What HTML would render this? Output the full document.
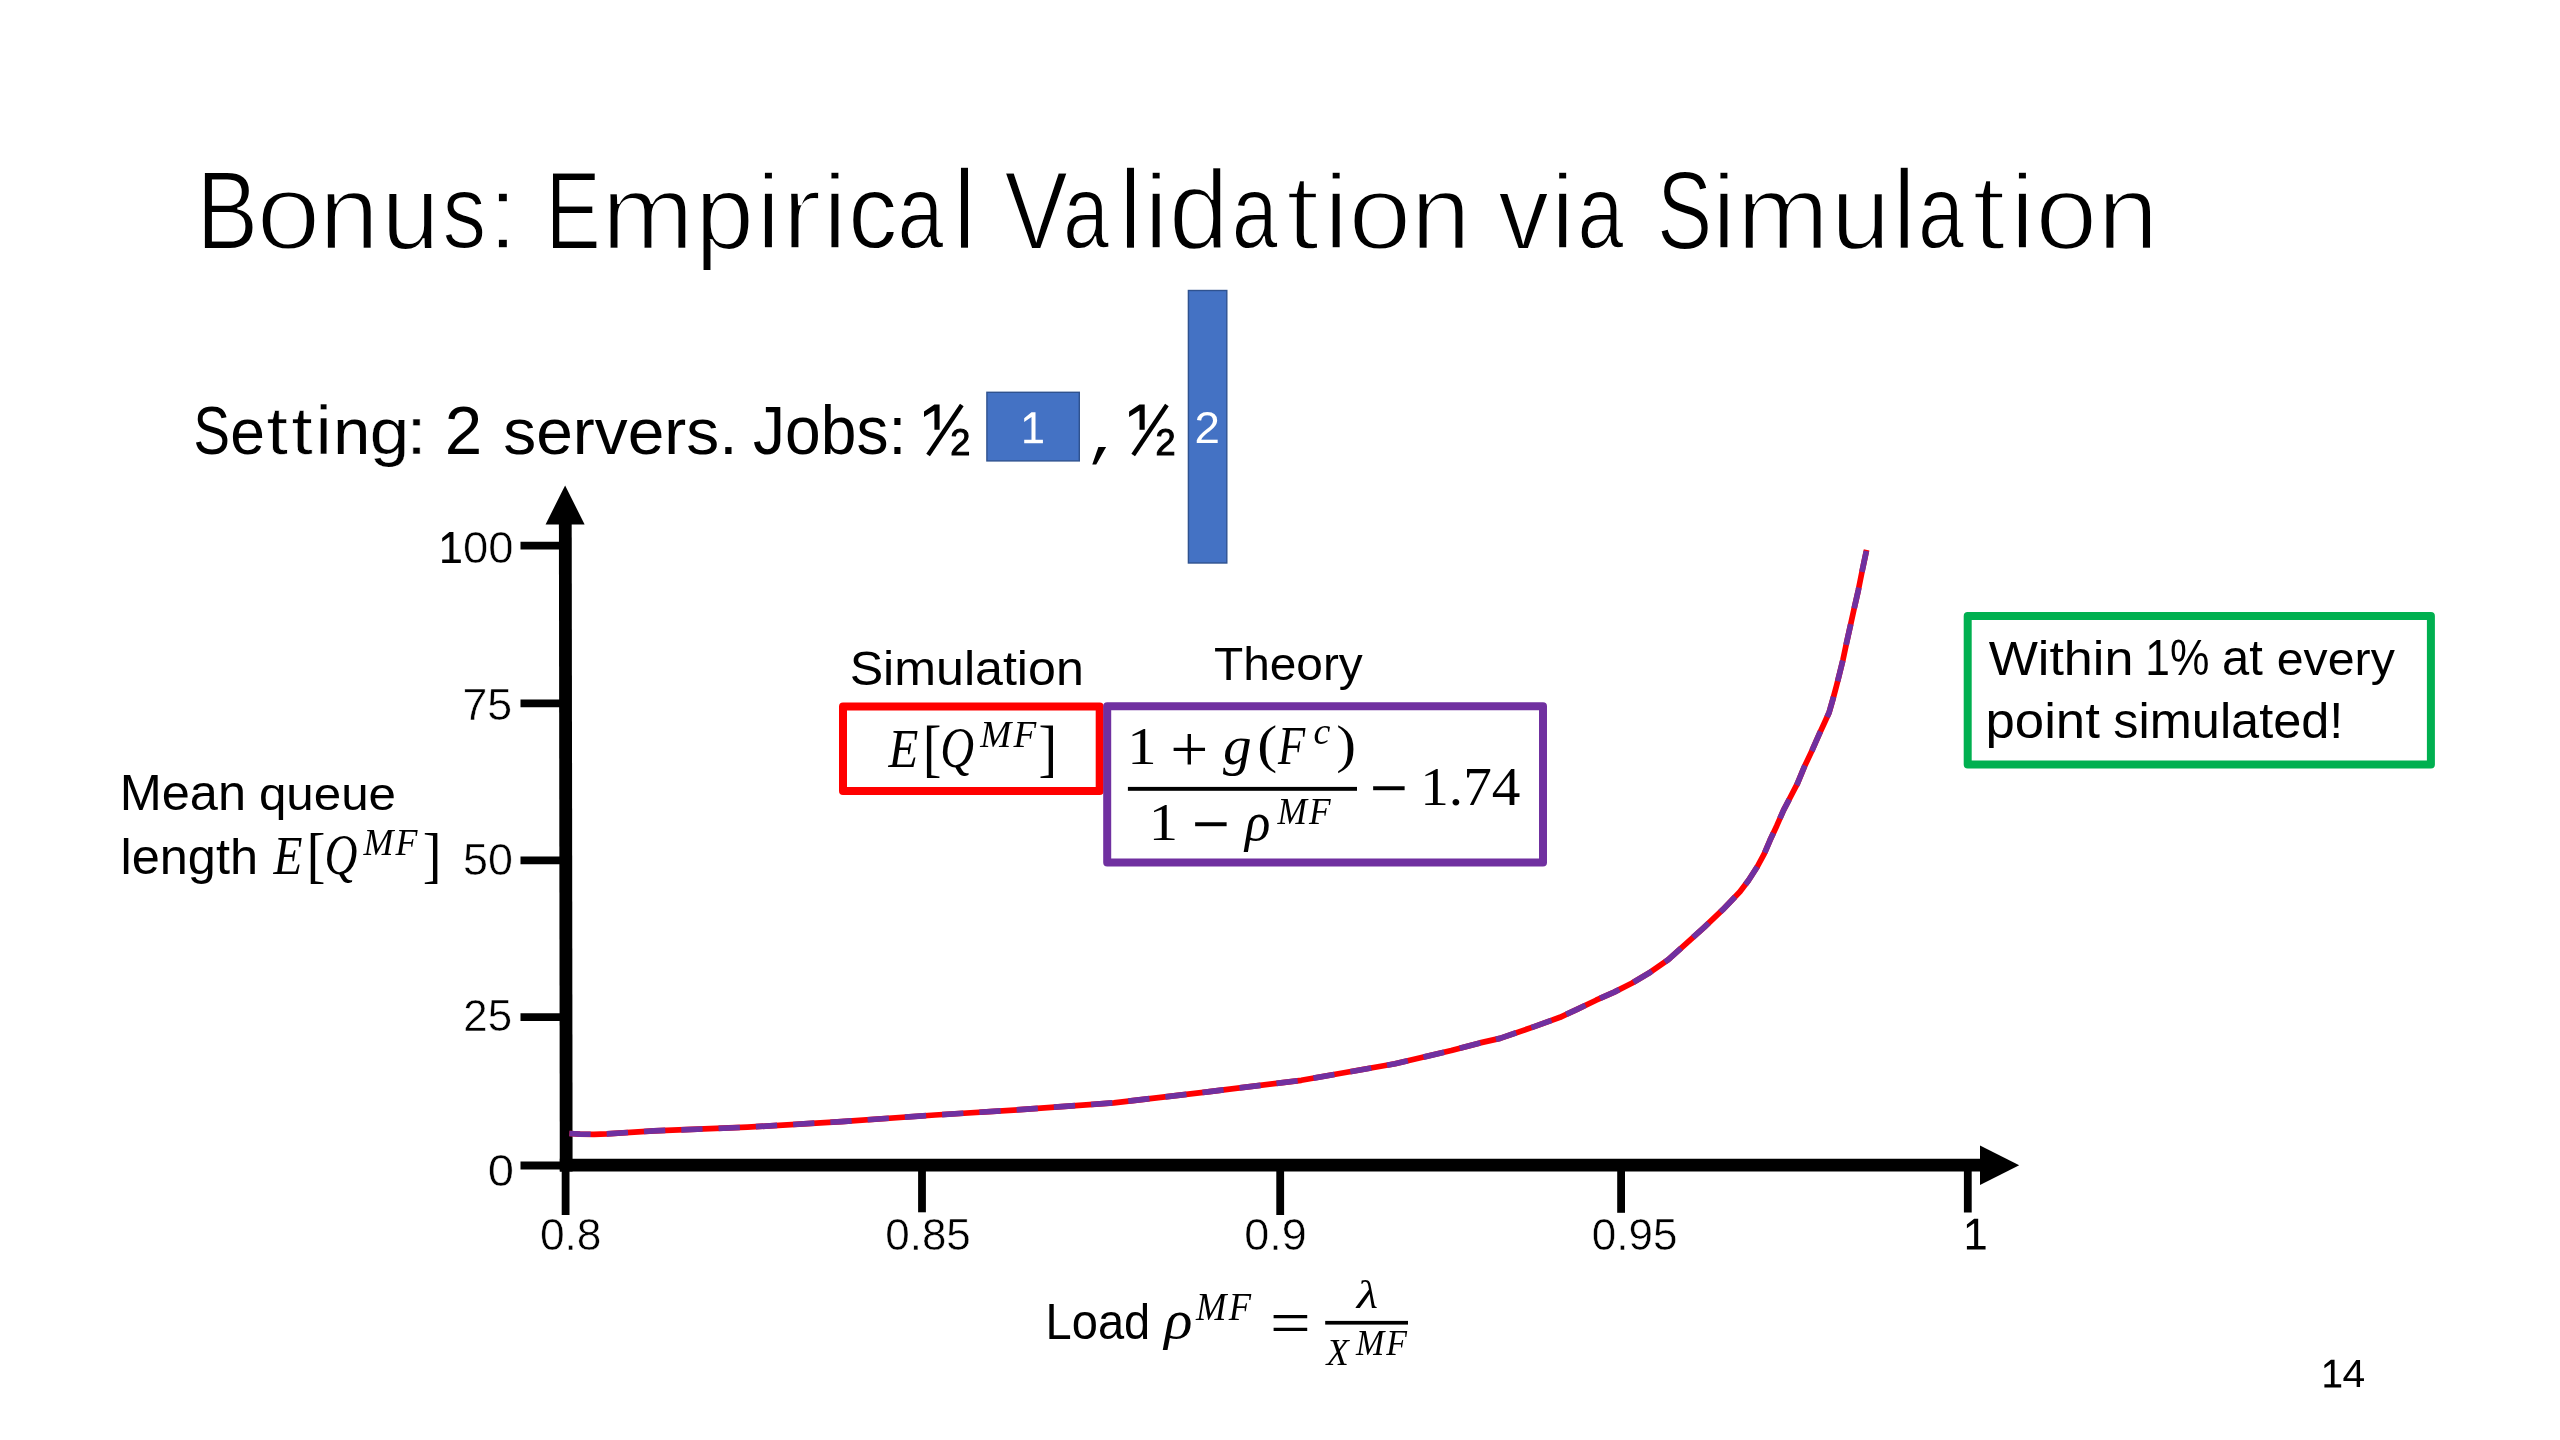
<!DOCTYPE html>
<html><head><meta charset="utf-8"><title>Bonus: Empirical Validation via Simulation</title>
<style>
html,body{margin:0;padding:0;background:#fff;width:2560px;height:1440px;overflow:hidden}
svg{display:block;position:absolute;left:0;top:0;will-change:transform}
text{white-space:pre}
.ss{font-family:"Liberation Sans",sans-serif}
.sf{font-family:"Liberation Serif",serif}
</style></head>
<body>
<svg width="2560" height="1440" viewBox="0 0 2560 1440">
<rect x="0" y="0" width="2560" height="1440" fill="#fff"/>
<g id="jobs">
<rect x="986.9" y="392.3" width="92.4" height="68.6" fill="#4472c4" stroke="#2f528f" stroke-width="1.4"/>
<rect x="1188.4" y="290.5" width="38.4" height="272.5" fill="#4472c4" stroke="#2f528f" stroke-width="1.4"/>
<path d="M.235 0H.365V.887H.604V1H0V.887H.235V.15L0 .31V.19Z" transform="translate(1024.2 412.3) scale(31)" fill="#fff"/>
</g>
<g id="glyphbits" fill="#000">
<polygon points="1098.4,447 1106.1,447 1096.2,464.5 1092.3,464.5"/>
<path d="M.235 0H.365V.887H.604V1H0V.887H.235V.15L0 .31V.19Z" transform="translate(442.2 532.1) scale(30.8)"/>
<path d="M.235 0H.365V.887H.604V1H0V.887H.235V.15L0 .31V.19Z" transform="translate(1966.9 1218.7) scale(30.9)"/>
<path d="M.235 0H.365V.887H.604V1H0V.887H.235V.15L0 .31V.19Z" transform="translate(2324.4 1359.7) scale(27.8)"/>
<path d="M.413 0H.619V1H.413V.235L0 .49V.27Z" transform="translate(924 404.6) scale(25.2)"/>
<path d="M.413 0H.619V1H.413V.235L0 .49V.27Z" transform="translate(1129.1 404.6) scale(25.2)"/>
<g stroke="#000" stroke-width="4.4" fill="none">
<line x1="961.8" y1="404.9" x2="928.1" y2="455"/>
<line x1="1166.9" y1="404.9" x2="1133.2" y2="455"/>
</g>
</g>
<g id="axes" stroke="#000" fill="#000">
<line x1="566.2" y1="1171.4" x2="565.3" y2="523" stroke-width="12.8"/>
<polygon points="565.1,485.5 584.6,524.4 545.6,524.4" stroke="none"/>
<line x1="559.8" y1="1165.1" x2="1981" y2="1165.1" stroke-width="12.7"/>
<polygon points="2019.2,1165.3 1980,1145.6 1980,1185" stroke="none"/>
<g stroke-width="7.8">
<line x1="520.5" y1="545.7" x2="563" y2="545.7"/>
<line x1="520.5" y1="703.3" x2="563" y2="703.3"/>
<line x1="520.5" y1="860.4" x2="563" y2="860.4"/>
<line x1="520.5" y1="1017.1" x2="563" y2="1017.1"/>
<line x1="520.5" y1="1165.5" x2="563" y2="1165.5"/>
<line x1="565.6" y1="1168" x2="565.6" y2="1215"/>
<line x1="922" y1="1168" x2="922" y2="1212.3"/>
<line x1="1280.2" y1="1168" x2="1280.2" y2="1215"/>
<line x1="1621.1" y1="1168" x2="1621.1" y2="1212.8"/>
<line x1="1967.8" y1="1168" x2="1967.8" y2="1212.5"/>
</g>
</g>
<g id="curve" fill="none" stroke-width="5.7" stroke-linejoin="round">
<path stroke="#ff0000" d="M569.4 1133.5 L580 1134.1 L594 1134.3 L606.9 1133.8 L653.8 1130.9 L747.5 1127.2 L841.3 1121.6 L935 1115 L1020 1109.7 L1113.8 1102.8 L1207.5 1091.9 L1301.3 1080.3 L1395 1063.8 L1451.3 1050.6 L1480 1042.9 L1500 1038.4 L1534.2 1026.6 L1560 1017.3 L1578.1 1008.8 L1596.1 1000.2 L1614.2 992.1 L1632.2 983 L1650.3 972.2 L1668.3 959.6 L1686.4 943.3 L1704.4 927.1 L1722.5 909.9 L1739.9 891.8 L1748.6 880.2 L1757.4 866.5 L1764.2 853.9 L1770 840.3 L1776.8 825.7 L1783.6 810.1 L1790.3 797.3 L1797.5 783.4 L1804.3 766.9 L1812.1 750.4 L1818.9 734.8 L1824.7 722.2 L1829.1 712.5 L1833 698.9 L1836.4 686.2 L1839.8 672.6 L1842.9 660.1 L1846.6 642.7 L1850.5 625.2 L1853.9 609.7 L1858.3 590.3 L1862.2 570.8 L1866.6 549.9"/>
<path stroke="#7030a0" stroke-dasharray="21.33 16" d="M569.4 1133.5 L580 1134.1 L594 1134.3 L606.9 1133.8 L653.8 1130.9 L747.5 1127.2 L841.3 1121.6 L935 1115 L1020 1109.7 L1113.8 1102.8 L1207.5 1091.9 L1301.3 1080.3 L1395 1063.8 L1451.3 1050.6 L1480 1042.9 L1500 1038.4 L1534.2 1026.6 L1560 1017.3 L1578.1 1008.8 L1596.1 1000.2 L1614.2 992.1 L1632.2 983 L1650.3 972.2 L1668.3 959.6 L1686.4 943.3 L1704.4 927.1 L1722.5 909.9 L1739.9 891.8 L1748.6 880.2 L1757.4 866.5 L1764.2 853.9 L1770 840.3 L1776.8 825.7 L1783.6 810.1 L1790.3 797.3 L1797.5 783.4 L1804.3 766.9 L1812.1 750.4 L1818.9 734.8 L1824.7 722.2 L1829.1 712.5 L1833 698.9 L1836.4 686.2 L1839.8 672.6 L1842.9 660.1 L1846.6 642.7 L1850.5 625.2 L1853.9 609.7 L1858.3 590.3 L1862.2 570.8 L1866.6 549.9"/>
</g>
<g id="boxes" fill="none" stroke-width="8" stroke-linejoin="round">
<rect x="843" y="706.5" width="256.7" height="84.4" stroke="#ff0000"/>
<rect x="1107.2" y="706.3" width="435.8" height="156.3" stroke="#7030a0"/>
<rect x="1967.7" y="616" width="463.2" height="148.6" stroke="#00b050"/>
</g>
<g id="bars" fill="#000">
<rect x="1127.9" y="786.9" width="229.1" height="3.9"/>
<rect x="1325.2" y="1320.9" width="82.8" height="3.7"/>
</g>

<g id="labels">
<text class="ss" transform="matrix(0.8272 0 0.0000 1.0000 196.58 248.55)" font-size="111.85" stroke="#fff" stroke-width="1.90">B</text>
<text class="ss" transform="matrix(1.0201 0 0.0000 0.9400 256.31 249.05)" font-size="113.56" stroke="#fff" stroke-width="3.07">o</text>
<text class="ss" transform="matrix(0.9506 0 0.0000 0.9400 319.28 248.78)" font-size="112.73" stroke="#fff" stroke-width="2.50">n</text>
<text class="ss" transform="matrix(0.9277 0 0.0000 0.9400 381.56 248.68)" font-size="112.42" stroke="#fff" stroke-width="2.29">u</text>
<text class="ss" transform="matrix(0.7802 0 0.0000 0.9400 442.46 248.49)" font-size="111.85" stroke="#fff" stroke-width="1.90">s</text>
<text class="ss" transform="matrix(1.0800 0 0.0000 0.9400 485.78 249.25)" font-size="114.20" stroke="#fff" stroke-width="3.51">:</text>
<text class="ss" transform="matrix(0.7400 0 0.0000 1.0000 545.47 248.55)" font-size="111.85" stroke="#fff" stroke-width="1.90">E</text>
<text class="ss" transform="matrix(0.9815 0 0.0000 0.9400 601.45 248.90)" font-size="113.11" stroke="#fff" stroke-width="2.77">m</text>
<text class="ss" transform="matrix(0.9386 0 0.0000 0.9400 695.31 248.72)" font-size="112.57" stroke="#fff" stroke-width="2.39">p</text>
<text class="ss" transform="matrix(1.0800 0 0.0000 0.9400 754.78 249.25)" font-size="114.20" stroke="#fff" stroke-width="3.51">i</text>
<text class="ss" transform="matrix(1.0800 0 0.0000 0.9400 781.11 249.25)" font-size="114.20" stroke="#fff" stroke-width="3.51">r</text>
<text class="ss" transform="matrix(1.0800 0 0.0000 0.9400 821.18 249.25)" font-size="114.20" stroke="#fff" stroke-width="3.51">i</text>
<text class="ss" transform="matrix(0.8788 0 0.0000 0.9400 848.29 248.49)" font-size="111.85" stroke="#fff" stroke-width="1.90">c</text>
<text class="ss" transform="matrix(0.7400 0 0.0000 0.9400 897.47 248.49)" font-size="111.85" stroke="#fff" stroke-width="1.90">a</text>
<text class="ss" transform="matrix(1.0800 0 0.0000 1.0000 950.68 249.36)" font-size="114.20" stroke="#fff" stroke-width="3.51">l</text>
<text class="ss" transform="matrix(0.8500 0 0.0000 1.0000 1004.52 248.55)" font-size="111.85" stroke="#fff" stroke-width="1.90">V</text>
<text class="ss" transform="matrix(0.7400 0 0.0000 0.9400 1063.07 248.49)" font-size="111.85" stroke="#fff" stroke-width="1.90">a</text>
<text class="ss" transform="matrix(1.0800 0 0.0000 1.0000 1116.68 249.36)" font-size="114.20" stroke="#fff" stroke-width="3.51">l</text>
<text class="ss" transform="matrix(1.0800 0 0.0000 0.9400 1142.48 249.25)" font-size="114.20" stroke="#fff" stroke-width="3.51">i</text>
<text class="ss" transform="matrix(0.9562 0 0.0000 1.0000 1168.70 248.87)" font-size="112.80" stroke="#fff" stroke-width="2.55">d</text>
<text class="ss" transform="matrix(0.7400 0 0.0000 0.9400 1231.87 248.49)" font-size="111.85" stroke="#fff" stroke-width="1.90">a</text>
<text class="ss" transform="matrix(1.0800 0 0.0000 0.9400 1285.43 249.25)" font-size="114.20" stroke="#fff" stroke-width="3.51">t</text>
<text class="ss" transform="matrix(1.0800 0 0.0000 0.9400 1322.48 249.25)" font-size="114.20" stroke="#fff" stroke-width="3.51">i</text>
<text class="ss" transform="matrix(1.0035 0 0.0000 0.9400 1348.19 248.98)" font-size="113.37" stroke="#fff" stroke-width="2.94">o</text>
<text class="ss" transform="matrix(0.9506 0 0.0000 0.9400 1410.98 248.78)" font-size="112.73" stroke="#fff" stroke-width="2.50">n</text>
<text class="ss" transform="matrix(0.9023 0 0.0000 0.9400 1498.37 248.56)" font-size="112.07" stroke="#fff" stroke-width="2.05">v</text>
<text class="ss" transform="matrix(1.0800 0 0.0000 0.9400 1549.08 249.25)" font-size="114.20" stroke="#fff" stroke-width="3.51">i</text>
<text class="ss" transform="matrix(0.7400 0 0.0000 0.9400 1577.47 248.49)" font-size="111.85" stroke="#fff" stroke-width="1.90">a</text>
<text class="ss" transform="matrix(0.7400 0 0.0000 1.0000 1657.03 248.55)" font-size="111.85" stroke="#fff" stroke-width="1.90">S</text>
<text class="ss" transform="matrix(1.0800 0 0.0000 0.9400 1710.28 249.25)" font-size="114.20" stroke="#fff" stroke-width="3.51">i</text>
<text class="ss" transform="matrix(0.9815 0 0.0000 0.9400 1736.65 248.90)" font-size="113.11" stroke="#fff" stroke-width="2.77">m</text>
<text class="ss" transform="matrix(0.9467 0 0.0000 0.9400 1831.10 248.76)" font-size="112.68" stroke="#fff" stroke-width="2.46">u</text>
<text class="ss" transform="matrix(1.0800 0 0.0000 1.0000 1890.38 249.36)" font-size="114.20" stroke="#fff" stroke-width="3.51">l</text>
<text class="ss" transform="matrix(0.7400 0 0.0000 0.9400 1918.02 248.49)" font-size="111.85" stroke="#fff" stroke-width="1.90">a</text>
<text class="ss" transform="matrix(1.0800 0 0.0000 0.9400 1971.63 249.25)" font-size="114.20" stroke="#fff" stroke-width="3.51">t</text>
<text class="ss" transform="matrix(1.0800 0 0.0000 0.9400 2008.68 249.25)" font-size="114.20" stroke="#fff" stroke-width="3.51">i</text>
<text class="ss" transform="matrix(0.9868 0 0.0000 0.9400 2035.17 248.92)" font-size="113.18" stroke="#fff" stroke-width="2.81">o</text>
<text class="ss" transform="matrix(0.9698 0 0.0000 0.9400 2097.41 248.85)" font-size="112.97" stroke="#fff" stroke-width="2.67">n</text>
<text class="ss" transform="matrix(0.8000 0 0.0000 1.0000 193.50 454.00)" font-size="68.22">S</text>
<text class="ss" transform="matrix(0.9138 0 0.0000 0.9500 230.15 454.00)" font-size="68.22">e</text>
<text class="ss" transform="matrix(1.1200 0 0.0000 0.9500 266.55 454.33)" font-size="69.24" stroke="#fff" stroke-width="0.70">t</text>
<text class="ss" transform="matrix(1.1200 0 0.0000 0.9500 291.20 454.33)" font-size="69.24" stroke="#fff" stroke-width="0.70">t</text>
<text class="ss" transform="matrix(1.1200 0 0.0000 1.0000 314.97 454.35)" font-size="69.24" stroke="#fff" stroke-width="0.70">i</text>
<text class="ss" transform="matrix(0.9749 0 0.0000 0.9500 333.21 454.00)" font-size="68.22">n</text>
<text class="ss" transform="matrix(1.0349 0 0.0000 0.9500 369.69 454.09)" font-size="68.50" stroke="#fff" stroke-width="0.20">g</text>
<text class="ss" transform="matrix(1.1200 0 0.0000 0.9500 405.64 454.33)" font-size="69.24" stroke="#fff" stroke-width="0.70">:</text>
<text class="ss" transform="matrix(0.9858 0 0.0000 1.0000 444.64 454.00)" font-size="68.22">2</text>
<text class="ss" transform="matrix(0.9659 0 0.0000 0.9500 503.19 454.00)" font-size="68.22">servers.</text>
<text class="ss" transform="matrix(0.9398 0 0.0000 1.0000 753.04 454.00)" font-size="68.22">Jobs:</text>
<text class="ss" transform="matrix(0.9757 0 0.0000 1.0075 950.33 455.20)" font-size="37.00" stroke="#000" stroke-width="1.10">2</text>
<text class="ss" transform="matrix(0.9757 0 0.0000 1.0075 1155.43 455.20)" font-size="37.00" stroke="#000" stroke-width="1.10">2</text>
<text class="ss" transform="matrix(1.0338 0 0.0000 1.0000 1194.61 443.00)" font-size="44.22" fill="#fff">2</text>
<text class="ss" transform="matrix(1.0124 0 0.0000 1.0000 462.93 563.15)" font-size="44.87" stroke="#fff" stroke-width="0.50">00</text>
<text class="ss" transform="matrix(0.9965 0 0.0000 1.0000 462.40 720.35)" font-size="44.87" stroke="#fff" stroke-width="0.50">75</text>
<text class="ss" transform="matrix(0.9993 0 0.0000 1.0000 462.96 875.35)" font-size="44.87" stroke="#fff" stroke-width="0.50">50</text>
<text class="ss" transform="matrix(0.9763 0 0.0000 1.0000 463.37 1031.15)" font-size="44.87" stroke="#fff" stroke-width="0.50">25</text>
<text class="ss" transform="matrix(1.0512 0 0.0000 1.0000 487.85 1186.15)" font-size="44.87" stroke="#fff" stroke-width="0.50">0</text>
<text class="ss" transform="matrix(0.9884 0 0.0000 1.0000 539.88 1249.75)" font-size="44.87" stroke="#fff" stroke-width="0.50">0.8</text>
<text class="ss" transform="matrix(0.9803 0 0.0000 1.0000 885.20 1249.75)" font-size="44.87" stroke="#fff" stroke-width="0.50">0.85</text>
<text class="ss" transform="matrix(1.0015 0 0.0000 1.0000 1244.20 1249.75)" font-size="44.87" stroke="#fff" stroke-width="0.50">0.9</text>
<text class="ss" transform="matrix(0.9803 0 0.0000 1.0000 1591.75 1249.75)" font-size="44.87" stroke="#fff" stroke-width="0.50">0.95</text>
<text class="ss" transform="matrix(1.0233 0 0.0000 1.0000 849.64 684.70)" font-size="49.02">Simulation</text>
<text class="ss" transform="matrix(1.0278 0 0.0000 1.0000 1213.92 679.90)" font-size="46.55">Theory</text>
<text class="ss" transform="matrix(1.0302 0 0.0000 1.0000 119.73 809.80)" font-size="49.02">Mean</text>
<text class="ss" transform="matrix(1.0060 0 0.0000 0.9500 258.90 809.80)" font-size="49.02">queue</text>
<text class="ss" transform="matrix(1.0303 0 0.0000 1.0000 120.49 873.75)" font-size="49.02">length</text>
<text class="ss" transform="matrix(0.9454 0 0.0000 1.0000 1045.62 1338.75)" font-size="49.75">Load</text>
<text class="ss" transform="matrix(1.0632 0 0.0000 1.0000 1988.64 675.20)" font-size="49.02">Within</text>
<text class="ss" transform="matrix(0.9048 0 0.0000 1.0000 2145.27 675.20)" font-size="49.02">1%</text>
<text class="ss" transform="matrix(0.9985 0 0.0000 1.0000 2222.02 675.20)" font-size="49.02">at</text>
<text class="ss" transform="matrix(0.9852 0 0.0000 0.9500 2276.75 675.20)" font-size="49.02">every</text>
<text class="ss" transform="matrix(1.0760 0 0.0000 1.0000 1985.47 737.50)" font-size="49.02">point</text>
<text class="ss" transform="matrix(1.0301 0 0.0000 1.0000 2113.31 737.50)" font-size="49.02">simulated!</text>
<text class="ss" transform="matrix(1.0273 0 0.0000 1.0000 2342.38 1387.40)" font-size="39.71">4</text>
<text class="sf" transform="matrix(0.8773 0 0.0000 1.0000 888.61 766.50)" font-size="55.73" style="font-style:italic;">E</text>
<text class="sf" transform="matrix(1.0215 0 0.0000 1.1391 922.79 768.54)" font-size="55.00">[</text>
<text class="sf" transform="matrix(0.8356 0 0.0000 1.0173 940.23 767.04)" font-size="56.00" style="font-style:italic;">Q</text>
<text class="sf" transform="matrix(0.9758 0 0.0000 1.0000 980.17 747.40)" font-size="38.17" letter-spacing="2.29" style="font-style:italic;">MF</text>
<text class="sf" transform="matrix(1.0182 0 0.0000 1.1391 1038.44 768.54)" font-size="55.00">]</text>
<text class="sf" transform="matrix(0.8507 0 0.0000 1.0000 273.59 873.75)" font-size="55.73" style="font-style:italic;">E</text>
<text class="sf" transform="matrix(1.0378 0 0.0000 1.1238 306.62 875.96)" font-size="55.00">[</text>
<text class="sf" transform="matrix(0.8136 0 0.0000 1.0173 324.59 874.24)" font-size="56.00" style="font-style:italic;">Q</text>
<text class="sf" transform="matrix(0.9303 0 0.0000 1.0000 363.45 854.80)" font-size="38.63" letter-spacing="2.32" style="font-style:italic;">MF</text>
<text class="sf" transform="matrix(1.0263 0 0.0000 1.1238 422.82 875.96)" font-size="55.00">]</text>
<text class="sf" transform="matrix(1.0875 0 0.0000 0.9848 1127.16 764.20)" font-size="54.00">1</text>
<text class="sf" transform="matrix(1.2505 0 0.0000 1.2186 1170.32 770.78)" font-size="54.00">+</text>
<text class="sf" transform="matrix(1.0220 0 0.0000 0.9655 1223.10 763.51)" font-size="56.00" style="font-style:italic;">g</text>
<text class="sf" transform="matrix(1.1111 0 0.0000 0.9917 1257.20 761.82)" font-size="54.00">(</text>
<text class="sf" transform="matrix(0.8207 0 0.0000 1.0000 1278.12 764.20)" font-size="54.20" style="font-style:italic;">F</text>
<text class="sf" transform="matrix(0.9503 0 0.0000 0.9574 1313.56 743.50)" font-size="40.00" style="font-style:italic;">c</text>
<text class="sf" transform="matrix(1.1003 0 0.0000 0.9917 1336.17 761.82)" font-size="54.00">)</text>
<text class="sf" transform="matrix(1.0875 0 0.0000 0.9820 1148.76 839.60)" font-size="54.00">1</text>
<text class="sf" transform="matrix(1.2545 0 0.0000 1.4815 1191.81 850.60)" font-size="54.00">−</text>
<text class="sf" transform="matrix(0.9436 0 0.0000 0.9864 1245.12 839.56)" font-size="56.00" style="font-style:italic;">ρ</text>
<text class="sf" transform="matrix(0.9449 0 0.0000 1.0000 1277.44 823.50)" font-size="37.40" letter-spacing="2.24" style="font-style:italic;">MF</text>
<text class="sf" transform="matrix(1.2545 0 0.0000 1.4815 1369.71 815.10)" font-size="54.00">−</text>
<text class="sf" transform="matrix(1.0611 0 0.0000 1.0073 1420.19 804.60)" font-size="54.00">1.74</text>
<text class="sf" transform="matrix(1.0489 0 0.0000 0.9655 1164.17 1337.91)" font-size="56.00" style="font-style:italic;">ρ</text>
<text class="sf" transform="matrix(0.9201 0 0.0000 1.0000 1196.06 1319.90)" font-size="39.69" letter-spacing="2.38" style="font-style:italic;">MF</text>
<text class="sf" transform="matrix(1.3381 0 0.0000 1.1556 1269.89 1344.35)" font-size="54.00">=</text>
<text class="sf" transform="matrix(1.2312 0 0.0000 1.0177 1356.73 1308.40)" font-size="40.00" style="font-style:italic;">λ</text>
<text class="sf" transform="matrix(0.9704 0 0.0000 1.0000 1326.38 1365.00)" font-size="37.56" style="font-style:italic;">X</text>
<text class="sf" transform="matrix(0.9655 0 0.0000 1.0000 1355.92 1355.20)" font-size="35.11" letter-spacing="2.11" style="font-style:italic;">MF</text>
</g>
</svg>
</body></html>
